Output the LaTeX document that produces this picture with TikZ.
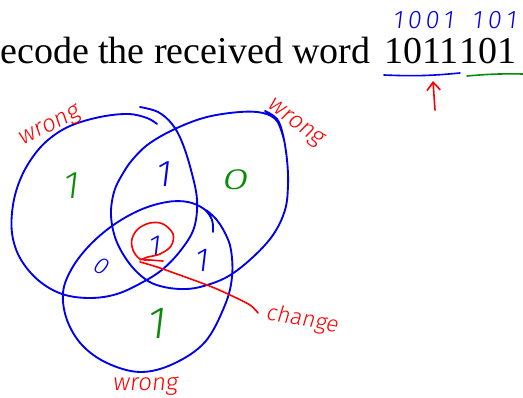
\documentclass[tikz,border=0pt]{standalone}
\usepackage{fontspec}
\setmainfont{Liberation Serif}
\newfontfamily\hand[FakeSlant=0.12]{Fira Sans Light}
\usetikzlibrary{arrows.meta}
\definecolor{penblue}{RGB}{0,0,235}
\definecolor{pengreen}{RGB}{10,140,10}
\definecolor{penred}{RGB}{255,0,0}
\begin{document}
\begin{tikzpicture}[x=0.75pt,y=-0.75pt,
  venn/.style={draw=penblue, line width=1.4pt, line cap=round, line join=round},
  bluepen/.style={draw=penblue, line width=1.2pt, line cap=round},
  greenpen/.style={draw=pengreen, line width=1.2pt, line cap=round},
  redpen/.style={draw=penred, line width=1.2pt, line cap=round, line join=round},
  hw/.style={inner sep=0pt, font=\hand\fontsize{#1}{#1}\selectfont},
  printed/.style={inner sep=0pt, anchor=base west, font=\fontsize{28.5}{30}\selectfont}]
\useasboundingbox (0,0) rectangle (523,398);

% printed line
\node[printed] (title) at (0,64) {ecode the received word};
\node[printed] (d1) at (384,64) {1011};
\node[printed] (d2) at (d1.base east) {101};

% handwritten correction above
\node[hw=19, text=penblue] (c1) at (423,20) {1\kern3pt0\kern3pt0\kern3pt1};
\node[hw=19, text=penblue] (c2) at (494,20) {1\kern3.5pt0\kern3.5pt1};

% underlines
\coordinate (u1a) at (384,75);
\coordinate (u1b) at (460,73);
\coordinate (u2a) at (467,76);
\coordinate (u2b) at (523,74);
\draw[bluepen] (u1a) to[bend right=4] (u1b);
\draw[greenpen] (u2a) to[bend left=3] (u2b);

% red arrow
\coordinate (ar0) at (435,110);
\coordinate (ar1) at (433,81);
\draw[redpen, -{Straight Barb[length=6pt,width=10pt]}] (ar0) -- (ar1);

% Venn circles
\draw[venn] plot[smooth, tension=0.6] coordinates {(140,107) (158,112) (172,124) (182,142) (191,170) (197,200) (194,228) (181,250) (163,269) (143,282) (117,294) (90,298) (62,294) (38,280) (20,258) (12,233) (13,205) (20,180) (32,158) (48,140) (70,126) (100,117) (128,114) (147,118) (157,124)};

\draw[venn] plot[smooth, tension=0.6] coordinates {(265,111) (277,119) (283,135) (287,160) (288,185) (285,210) (273,235) (252,258) (227,277) (200,287) (180,289) (160,286) (145,279) (129,263) (116,240) (111,215) (114,192) (122,175) (133,159) (150,143) (177,128) (207,117) (240,112) (263,113) (277,121) (284,140)};

\draw[venn] plot[smooth, tension=0.6] coordinates {(213,232) (212,220) (204,209) (188,202) (167,202) (140,210) (112,226) (88,247) (71,270) (63,293) (67,320) (82,345) (107,363) (140,372) (173,364) (205,342) (225,305) (232,277) (231,250) (225,233) (216,219) (206,210)};

% region values
\node[hw=29, text=pengreen] (g1) at (70,186) {1};
\node[hw=28, text=penblue] (b1) at (163,174) {1};
\node[hw=22, text=pengreen] (g0) at (234,180) {\scalebox{1.7}[1]{0}};
\node[hw=23, text=penblue] (b2) at (154,246) {1};
\node[hw=18, text=penblue, rotate=-30] (b0) at (101,266) {0};
\node[hw=25, text=penblue] (b3) at (201,260) {1};
\node[hw=34, text=pengreen] (g2) at (156,323) {1};

% red loop and pointer to "change"
\draw[redpen] plot[smooth, tension=0.6] coordinates {(163,261) (150,260) (140,259) (133,250) (132,239) (138,229) (150,223) (163,224) (173,234) (171,246) (160,254) (148,257) (140,260)};
\node[hw=17, text=penred, rotate=-10] (chg) at (302,320) {change};
\coordinate (rl0) at (140,262);
\coordinate (rl1) at (258,313);
\draw[redpen] plot[smooth, tension=0.5] coordinates {(rl0) (160,268) (207,285) (228,294) (250,305) (rl1)};

% "wrong" marks
\node[hw=18, text=penred, rotate=26] (w1) at (50,127) {wrong};
\node[hw=18, text=penred, rotate=-37] (w2) at (295,123) {wrong};
\node[hw=18, text=penred] (w3) at (145,386) {wrong};
\end{tikzpicture}
\end{document}
